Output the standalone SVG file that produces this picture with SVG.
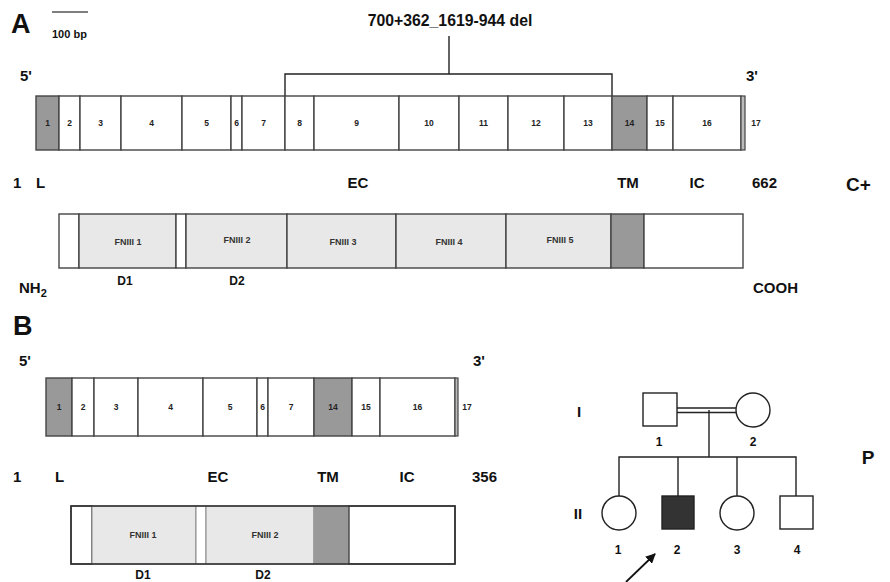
<svg xmlns="http://www.w3.org/2000/svg" width="890" height="582" viewBox="0 0 890 582">
<style>
text{font-family:"Liberation Sans",Arial,sans-serif;font-weight:bold;fill:#111}
.big{font-size:27px}
.lab{font-size:15px}
.num{font-size:8.5px;text-anchor:middle;fill:#222}
.fn{font-size:9px;text-anchor:middle;fill:#333}
.d{font-size:12px;text-anchor:middle}
.pn{font-size:12px;text-anchor:middle}
.ex{fill:#fff;stroke:#444;stroke-width:1.4}
.exg{fill:#999;stroke:#444;stroke-width:1.4}
.fnb{fill:#e8e8e8;stroke:#444;stroke-width:1.4}
.ln{fill:none;stroke:#222;stroke-width:1.4}
.ped{fill:#fff;stroke:#222;stroke-width:1.4}
</style>
<defs>
<marker id="ah" markerWidth="10" markerHeight="10" refX="9" refY="5" orient="auto" markerUnits="userSpaceOnUse">
<path d="M0,0 L10,5 L0,10 Z" fill="#111"/>
</marker>
</defs>

<!-- Panel A labels -->
<text class="big" x="11" y="33">A</text>
<line x1="52" y1="12" x2="88" y2="12" stroke="#555" stroke-width="1.4"/>
<text x="52" y="38" style="font-size:11px">100 bp</text>
<text class="lab" x="20" y="81">5'</text>
<text class="lab" x="746" y="81">3'</text>
<text x="450" y="26" style="font-size:15.8px;text-anchor:middle">700+362_1619-944 del</text>

<g id="connectors">
<path class="ln" d="M285,96 V74 H612 V96"/>
<line class="ln" x1="449" y1="36" x2="449" y2="74"/>
<!-- pedigree lines -->
<line class="ln" x1="677" y1="408" x2="736" y2="408"/>
<line class="ln" x1="677" y1="412.5" x2="736" y2="412.5"/>
<line class="ln" x1="709" y1="410" x2="709" y2="457"/>
<path class="ln" d="M619,496 V457 H796 V496"/>
<line class="ln" x1="678" y1="457" x2="678" y2="496"/>
<line class="ln" x1="737" y1="457" x2="737" y2="496"/>
<line x1="626" y1="582" x2="655" y2="554" stroke="#111" stroke-width="1.8" marker-end="url(#ah)"/>
</g>

<!-- Exon row A -->
<g id="exonsA">
<rect class="exg" x="36" y="96" width="23" height="54"/>
<rect class="ex" x="59" y="96" width="21" height="54"/>
<rect class="ex" x="80" y="96" width="41" height="54"/>
<rect class="ex" x="121" y="96" width="61" height="54"/>
<rect class="ex" x="182" y="96" width="49" height="54"/>
<rect class="ex" x="231" y="96" width="11" height="54"/>
<rect class="ex" x="242" y="96" width="43" height="54"/>
<rect class="ex" x="285" y="96" width="29" height="54"/>
<rect class="ex" x="314" y="96" width="85" height="54"/>
<rect class="ex" x="399" y="96" width="60" height="54"/>
<rect class="ex" x="459" y="96" width="49" height="54"/>
<rect class="ex" x="508" y="96" width="56" height="54"/>
<rect class="ex" x="564" y="96" width="48" height="54"/>
<rect class="exg" x="612" y="96" width="35" height="54"/>
<rect class="ex" x="647" y="96" width="26" height="54"/>
<rect class="ex" x="673" y="96" width="68" height="54"/>
<rect x="741" y="96" width="4" height="54" fill="#bbb" stroke="#444" stroke-width="1.2"/>
<text class="num" x="47.5" y="126">1</text>
<text class="num" x="69.5" y="126">2</text>
<text class="num" x="100.5" y="126">3</text>
<text class="num" x="151.5" y="126">4</text>
<text class="num" x="206.5" y="126">5</text>
<text class="num" x="236.5" y="126">6</text>
<text class="num" x="263.5" y="126">7</text>
<text class="num" x="299.5" y="126">8</text>
<text class="num" x="356.5" y="126">9</text>
<text class="num" x="429" y="126">10</text>
<text class="num" x="483.5" y="126">11</text>
<text class="num" x="536" y="126">12</text>
<text class="num" x="588" y="126">13</text>
<text class="num" x="629.5" y="126">14</text>
<text class="num" x="660" y="126">15</text>
<text class="num" x="707" y="126">16</text>
<text class="num" x="756" y="126">17</text>
</g>

<!-- Protein A -->
<g id="proteinA">
<text class="lab" x="13" y="188">1</text>
<text class="lab" x="36" y="188">L</text>
<text class="lab" x="358" y="188" text-anchor="middle">EC</text>
<text class="lab" x="628" y="188" text-anchor="middle">TM</text>
<text class="lab" x="697" y="188" text-anchor="middle">IC</text>
<text class="lab" x="752" y="188">662</text>
<text x="846" y="191" style="font-size:19px">C+</text>
<rect class="ex" x="59" y="214" width="20" height="54"/>
<rect class="fnb" x="79" y="214" width="97" height="54"/>
<rect class="ex" x="176" y="214" width="10" height="54"/>
<rect class="fnb" x="186" y="214" width="101" height="54"/>
<rect class="fnb" x="287" y="214" width="109" height="54"/>
<rect class="fnb" x="396" y="214" width="110" height="54"/>
<rect class="fnb" x="506" y="214" width="105" height="54"/>
<rect class="exg" x="611" y="214" width="33" height="54"/>
<rect class="ex" x="644" y="214" width="99" height="54"/>
<text class="fn" x="128" y="245">FNIII 1</text>
<text class="fn" x="237" y="243">FNIII 2</text>
<text class="fn" x="343" y="245">FNIII 3</text>
<text class="fn" x="449" y="245">FNIII 4</text>
<text class="fn" x="560" y="243">FNIII 5</text>
<text class="d" x="125" y="285">D1</text>
<text class="d" x="237" y="285">D2</text>
<text class="lab" x="19" y="293">NH<tspan dy="4" style="font-size:11px">2</tspan></text>
<text class="lab" x="753" y="293">COOH</text>
</g>

<!-- Panel B -->
<text class="big" x="13" y="335">B</text>
<text class="lab" x="19" y="366">5'</text>
<text class="lab" x="473" y="366">3'</text>

<g id="exonsB">
<rect class="exg" x="46" y="378" width="26" height="58"/>
<rect class="ex" x="72" y="378" width="22" height="58"/>
<rect class="ex" x="94" y="378" width="44" height="58"/>
<rect class="ex" x="138" y="378" width="65" height="58"/>
<rect class="ex" x="203" y="378" width="54" height="58"/>
<rect class="ex" x="257" y="378" width="11" height="58"/>
<rect class="ex" x="268" y="378" width="46" height="58"/>
<rect class="exg" x="314" y="378" width="38" height="58"/>
<rect class="ex" x="352" y="378" width="28" height="58"/>
<rect class="ex" x="380" y="378" width="75" height="58"/>
<rect x="455" y="378" width="3" height="58" fill="#bbb" stroke="#444" stroke-width="1.2"/>
<text class="num" x="59" y="410">1</text>
<text class="num" x="83" y="410">2</text>
<text class="num" x="116" y="410">3</text>
<text class="num" x="170.5" y="410">4</text>
<text class="num" x="230" y="410">5</text>
<text class="num" x="262.5" y="410">6</text>
<text class="num" x="291" y="410">7</text>
<text class="num" x="333" y="410">14</text>
<text class="num" x="366" y="410">15</text>
<text class="num" x="417.5" y="410">16</text>
<text class="num" x="467" y="410">17</text>
</g>

<g id="proteinB">
<text class="lab" x="13" y="482">1</text>
<text class="lab" x="55" y="482">L</text>
<text class="lab" x="218" y="482" text-anchor="middle">EC</text>
<text class="lab" x="328" y="482" text-anchor="middle">TM</text>
<text class="lab" x="407" y="482" text-anchor="middle">IC</text>
<text class="lab" x="472" y="482">356</text>
<rect class="ex" x="71" y="506" width="21" height="58"/>
<rect class="fnb" x="92" y="506" width="104" height="58" style="stroke:#888;stroke-width:1"/>
<rect class="ex" x="196" y="506" width="10" height="58" style="stroke:#888;stroke-width:1"/>
<rect class="fnb" x="206" y="506" width="108" height="58" style="stroke:#888;stroke-width:1"/>
<rect class="exg" x="314" y="506" width="35" height="58" style="stroke:#999"/>
<rect class="ex" x="349" y="506" width="106" height="58"/>
<rect x="71" y="506" width="384" height="58" fill="none" stroke="#333" stroke-width="1.6"/>
<text class="fn" x="143" y="538">FNIII 1</text>
<text class="fn" x="265" y="538">FNIII 2</text>
<text class="d" x="143" y="578.5">D1</text>
<text class="d" x="263" y="578.5">D2</text>
</g>

<!-- Pedigree -->
<text class="lab" x="579" y="417" text-anchor="middle">I</text>
<text class="lab" x="578" y="519" text-anchor="middle">II</text>
<text x="868" y="464" style="font-size:19px;text-anchor:middle">P</text>
<g id="I-1">
<rect class="ped" x="643" y="393" width="34" height="33"/>
<text class="pn" x="659" y="446">1</text>
</g>
<g id="I-2">
<circle class="ped" cx="753" cy="410" r="17"/>
<text class="pn" x="753" y="446">2</text>
</g>
<g id="II-1">
<circle class="ped" cx="619" cy="513" r="17"/>
<text class="pn" x="618" y="554">1</text>
</g>
<g id="II-2">
<rect x="662" y="496" width="32" height="33" fill="#333" stroke="#222" stroke-width="1.4"/>
<text class="pn" x="677" y="554">2</text>
</g>
<g id="II-3">
<circle class="ped" cx="737" cy="513" r="17"/>
<text class="pn" x="737" y="554">3</text>
</g>
<g id="II-4">
<rect class="ped" x="780" y="496" width="33" height="33"/>
<text class="pn" x="797" y="554">4</text>
</g>
</svg>
